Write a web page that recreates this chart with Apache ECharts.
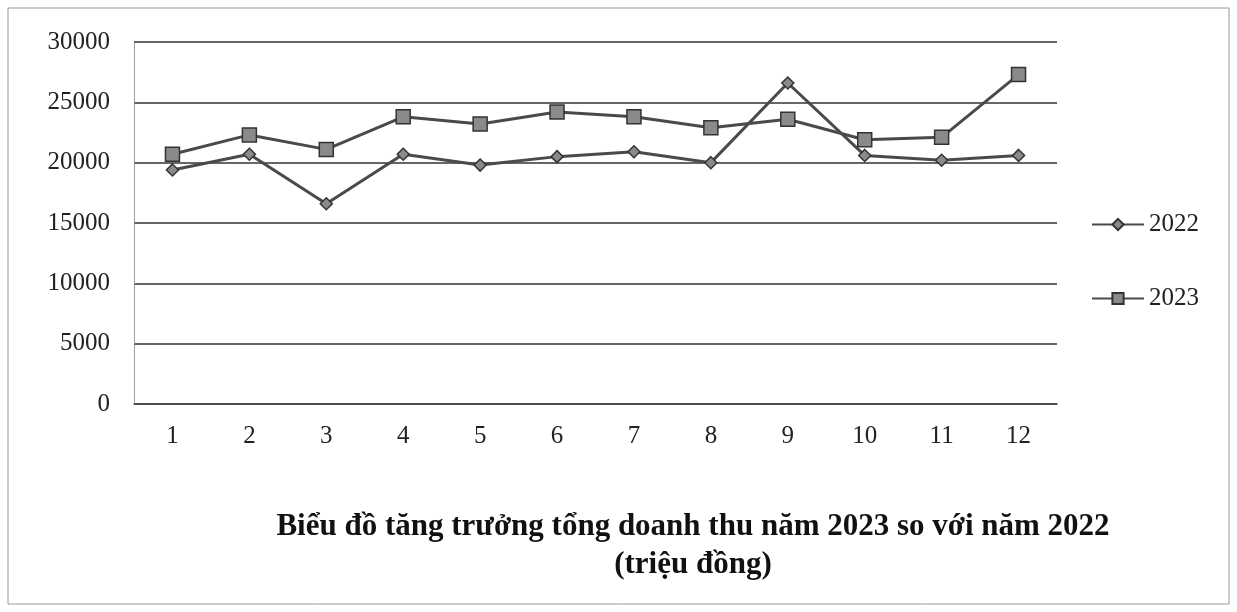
<!DOCTYPE html>
<html>
<head>
<meta charset="utf-8">
<script src="https://cdn.jsdelivr.net/npm/echarts@6/dist/echarts.min.js"></script>
<style>html,body{margin:0;padding:0;background:#fff}#c{width:1237px;height:612px}</style>
</head>
<body>
<div id="c"></div>
<script>
const months = ['1','2','3','4','5','6','7','8','9','10','11','12'];
const y2022 = [19400, 20700, 16600, 20700, 19800, 20500, 20900, 20000, 26600, 20600, 20200, 20600];
const y2023 = [20700, 22300, 21100, 23800, 23200, 24200, 23800, 22900, 23600, 21900, 22100, 27300];
const titleLine1 = 'Biểu đồ tăng trưởng tổng doanh thu năm 2023 so với năm 2022';
const titleLine2 = '(triệu đồng)';

const serif = '"Liberation Serif", "DejaVu Serif", serif';
const chart = echarts.init(document.getElementById('c'), null, {renderer: 'canvas'});
chart.setOption({
  backgroundColor: '#fff',
  animation: false,
  title: {
    text: titleLine1 + '\n' + titleLine2,
    left: 688, top: 503, textAlign: 'center',
    textStyle: {fontFamily: serif, fontWeight: 'bold', fontSize: 31, color: '#111', lineHeight: 38}
  },
  legend: {
    orient: 'vertical', left: 1086, top: 207, itemGap: 49,
    itemWidth: 52, itemHeight: 14,
    textStyle: {fontFamily: serif, fontSize: 25, color: '#222'},
    data: ['2022', '2023']
  },
  grid: {left: 134, right: 180, top: 42, bottom: 208, show: false},
  xAxis: {
    type: 'category', data: months, boundaryGap: true,
    axisLine: {lineStyle: {color: '#444', width: 1.5}},
    axisTick: {show: false},
    axisLabel: {fontFamily: serif, fontSize: 25, color: '#222', margin: 20}
  },
  yAxis: {
    type: 'value', min: 0, max: 30000, interval: 5000,
    axisLine: {show: true, lineStyle: {color: '#888', width: 1, type: 'dotted'}},
    axisTick: {show: false},
    axisLabel: {fontFamily: serif, fontSize: 25, color: '#222', margin: 24, formatter: v => String(v)},
    splitLine: {lineStyle: {color: '#333', width: 1.5}}
  },
  series: [
    {
      name: '2022', type: 'line', data: y2022,
      symbol: 'diamond', symbolSize: 12,
      lineStyle: {color: '#4a4a4a', width: 3},
      itemStyle: {color: '#8a8a8a', borderColor: '#333', borderWidth: 1.5}
    },
    {
      name: '2023', type: 'line', data: y2023,
      symbol: 'rect', symbolSize: 14,
      lineStyle: {color: '#4a4a4a', width: 3},
      itemStyle: {color: '#8a8a8a', borderColor: '#333', borderWidth: 1.5}
    }
  ],
  graphic: [{
    type: 'rect', silent: true,
    shape: {x: 8, y: 8, width: 1221, height: 596},
    style: {fill: 'none', stroke: '#999', lineWidth: 1}
  }]
});
</script>
</body>
</html>
